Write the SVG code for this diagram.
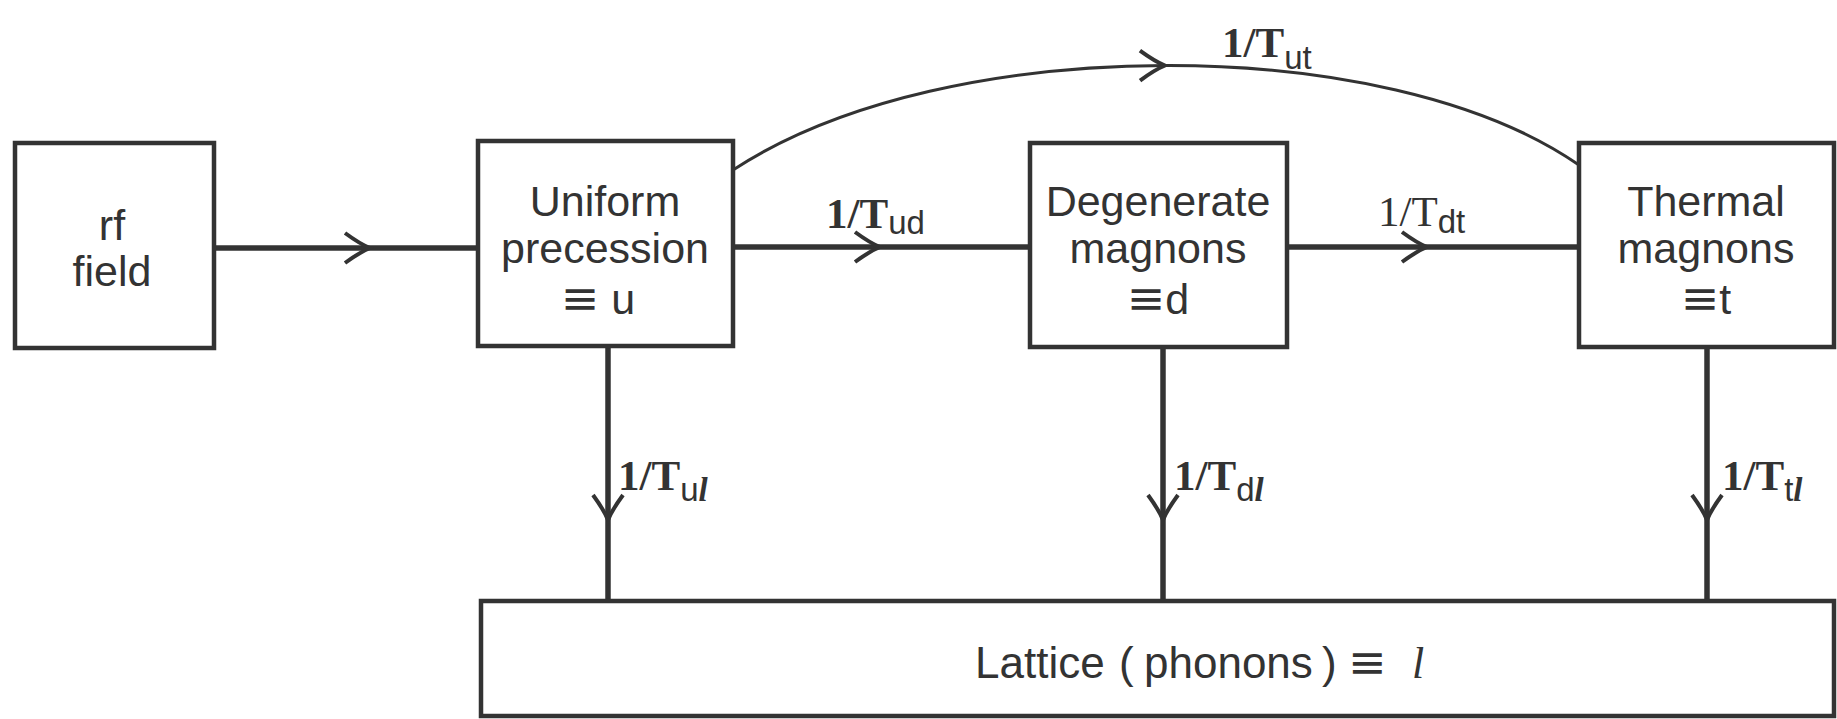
<svg xmlns="http://www.w3.org/2000/svg" width="1837" height="719" viewBox="0 0 1837 719">
<style>
.box{fill:#fff;stroke:#333;stroke-width:4.5}
.t{font-family:"Liberation Sans",Arial,sans-serif;font-size:43px;fill:#333;text-anchor:middle}
.tl{font-family:"Liberation Sans",Arial,sans-serif;font-size:44px;fill:#333}
.lab{font-family:"Liberation Serif","Times New Roman",serif;font-size:43px;fill:#333;font-weight:bold}
.sub{font-family:"Liberation Sans",Arial,sans-serif;font-size:33px;font-weight:normal}
.ell{font-family:"Liberation Serif",serif;font-style:italic;font-weight:bold}
.eq{font-family:"DejaVu Sans",sans-serif;font-size:46px}
.ln{fill:none;stroke:#333;stroke-width:5.5;marker-mid:url(#chev)}
.thin{stroke-width:3}
</style>
<defs>
<marker id="chev" markerUnits="userSpaceOnUse" viewBox="-30 -20 36 40" refX="0" refY="0" markerWidth="36" markerHeight="40" orient="auto" overflow="visible">
<path d="M-25,-15 Q-10,-4 0,0 Q-10,4 -25,15" fill="none" stroke="#333" stroke-width="4"/>
</marker>
</defs>
<rect width="1837" height="719" fill="#fff"/>
<g id="connectors">
<path class="ln" d="M214,248 L370,248 L478,248"/>
<path class="ln" d="M733,247 L880,247 L1030,247"/>
<path class="ln" d="M1287,247 L1427,247 L1579,247"/>
<path class="ln thin" d="M733,170 C841.5,99 1004.75,66 1165,65.5 C1325.25,65 1482.5,98 1579,165"/>
<path class="ln" d="M608,346 L608,520 L608,601"/>
<path class="ln" d="M1163,347 L1163,520 L1163,601"/>
<path class="ln" d="M1707,347 L1707,520 L1707,601"/>
<text class="lab" x="826" y="228">1/T<tspan class="sub" dy="6">ud</tspan></text>
<text class="lab" x="1378" y="226" style="font-weight:normal">1/T<tspan class="sub" dy="7">dt</tspan></text>
<text class="lab" x="1222" y="57">1/T<tspan class="sub" dy="12">ut</tspan></text>
<text class="lab" x="618" y="490">1/T<tspan class="sub" dy="11">u</tspan><tspan class="sub ell">l</tspan></text>
<text class="lab" x="1174" y="490">1/T<tspan class="sub" dy="11">d</tspan><tspan class="sub ell">l</tspan></text>
<text class="lab" x="1722" y="490">1/T<tspan class="sub" dy="11">t</tspan><tspan class="sub ell">l</tspan></text>
</g>
<g id="rf">
<rect class="box" x="15" y="143" width="199" height="205"/>
<text class="t" x="112" y="240">rf</text>
<text class="t" x="112" y="286">field</text>
</g>
<g id="uniform">
<rect class="box" x="478" y="141" width="255" height="205"/>
<text class="t" x="605" y="216">Uniform</text>
<text class="t" x="605" y="263">precession</text>
<text class="t" x="598" y="314"><tspan class="eq">≡</tspan> u</text>
</g>
<g id="degenerate">
<rect class="box" x="1030" y="143" width="257" height="204"/>
<text class="t" x="1158" y="216">Degenerate</text>
<text class="t" x="1158" y="263">magnons</text>
<text class="t" x="1158" y="314"><tspan class="eq">≡</tspan>d</text>
</g>
<g id="thermal">
<rect class="box" x="1579" y="143" width="255" height="204"/>
<text class="t" x="1706" y="216">Thermal</text>
<text class="t" x="1706" y="263">magnons</text>
<text class="t" x="1706" y="314"><tspan class="eq">≡</tspan>t</text>
</g>
<g id="lattice">
<rect class="box" x="481" y="601" width="1353" height="115"/>
<text class="tl" y="678"><tspan x="975">Lattice</tspan><tspan x="1119">(</tspan><tspan x="1144">phonons</tspan><tspan x="1322">)</tspan><tspan class="eq" x="1348">≡</tspan><tspan x="1412" style="font-family:'Liberation Serif',serif;font-style:italic">l</tspan></text>
</g>
</svg>
